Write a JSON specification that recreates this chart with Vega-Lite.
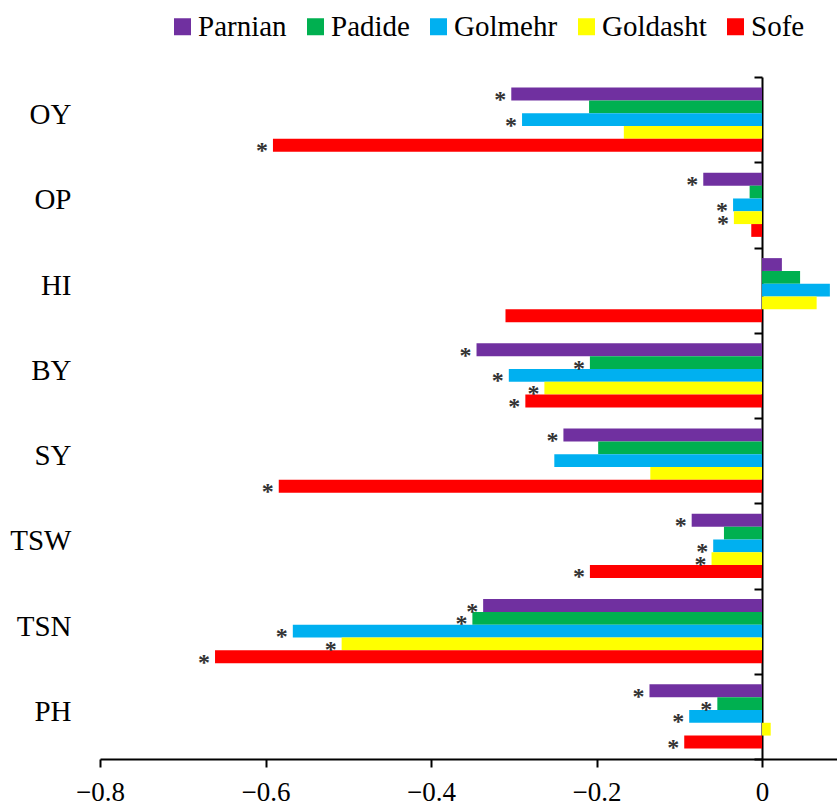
{
  "$schema": "https://vega.github.io/schema/vega-lite/v6.json",
  "width": 737,
  "height": 682,
  "autosize": {"type": "none"},
  "padding": {"left": 100, "top": 77, "right": 0, "bottom": 46},
  "config": {
    "view": {"stroke": null},
    "font": "Liberation Serif"
  },
  "data": {
    "values": [
      {"cat": "OY", "series": "Parnian", "value": -0.303, "sig": true},
      {"cat": "OY", "series": "Padide", "value": -0.209, "sig": false},
      {"cat": "OY", "series": "Golmehr", "value": -0.290, "sig": true},
      {"cat": "OY", "series": "Goldasht", "value": -0.167, "sig": false},
      {"cat": "OY", "series": "Sofe", "value": -0.591, "sig": true},
      {"cat": "OP", "series": "Parnian", "value": -0.071, "sig": true},
      {"cat": "OP", "series": "Padide", "value": -0.015, "sig": false},
      {"cat": "OP", "series": "Golmehr", "value": -0.035, "sig": true},
      {"cat": "OP", "series": "Goldasht", "value": -0.034, "sig": true},
      {"cat": "OP", "series": "Sofe", "value": -0.013, "sig": false},
      {"cat": "HI", "series": "Parnian", "value": 0.024, "sig": false},
      {"cat": "HI", "series": "Padide", "value": 0.046, "sig": false},
      {"cat": "HI", "series": "Golmehr", "value": 0.082, "sig": false},
      {"cat": "HI", "series": "Goldasht", "value": 0.066, "sig": false},
      {"cat": "HI", "series": "Sofe", "value": -0.310, "sig": false},
      {"cat": "BY", "series": "Parnian", "value": -0.345, "sig": true},
      {"cat": "BY", "series": "Padide", "value": -0.208, "sig": true},
      {"cat": "BY", "series": "Golmehr", "value": -0.306, "sig": true},
      {"cat": "BY", "series": "Goldasht", "value": -0.263, "sig": true},
      {"cat": "BY", "series": "Sofe", "value": -0.286, "sig": true},
      {"cat": "SY", "series": "Parnian", "value": -0.240, "sig": true},
      {"cat": "SY", "series": "Padide", "value": -0.198, "sig": false},
      {"cat": "SY", "series": "Golmehr", "value": -0.251, "sig": false},
      {"cat": "SY", "series": "Goldasht", "value": -0.135, "sig": false},
      {"cat": "SY", "series": "Sofe", "value": -0.584, "sig": true},
      {"cat": "TSW", "series": "Parnian", "value": -0.085, "sig": true},
      {"cat": "TSW", "series": "Padide", "value": -0.046, "sig": false},
      {"cat": "TSW", "series": "Golmehr", "value": -0.059, "sig": true},
      {"cat": "TSW", "series": "Goldasht", "value": -0.061, "sig": true},
      {"cat": "TSW", "series": "Sofe", "value": -0.208, "sig": true},
      {"cat": "TSN", "series": "Parnian", "value": -0.337, "sig": true},
      {"cat": "TSN", "series": "Padide", "value": -0.350, "sig": true},
      {"cat": "TSN", "series": "Golmehr", "value": -0.567, "sig": true},
      {"cat": "TSN", "series": "Goldasht", "value": -0.508, "sig": true},
      {"cat": "TSN", "series": "Sofe", "value": -0.661, "sig": true},
      {"cat": "PH", "series": "Parnian", "value": -0.136, "sig": true},
      {"cat": "PH", "series": "Padide", "value": -0.054, "sig": true},
      {"cat": "PH", "series": "Golmehr", "value": -0.088, "sig": true},
      {"cat": "PH", "series": "Goldasht", "value": 0.0105, "sig": false},
      {"cat": "PH", "series": "Sofe", "value": -0.094, "sig": true}
    ]
  },
  "encoding": {
    "y": {
      "field": "cat",
      "type": "nominal",
      "sort": ["OY", "OP", "HI", "BY", "SY", "TSW", "TSN", "PH"],
      "scale": {"paddingInner": 0, "paddingOuter": 0},
      "axis": {
        "title": null,
        "orient": "left",
        "offset": -662,
        "domain": true,
        "domainColor": "black",
        "domainWidth": 2,
        "ticks": true,
        "tickBand": "extent",
        "tickSize": 8,
        "tickWidth": 2,
        "tickColor": "black",
        "labelPadding": 683,
        "labelFont": "Liberation Serif",
        "labelFontSize": 29,
        "labelColor": "black",
        "labelOffset": -5
      }
    },
    "yOffset": {
      "field": "series",
      "type": "nominal",
      "sort": ["Parnian", "Padide", "Golmehr", "Goldasht", "Sofe"],
      "scale": {"paddingInner": 0, "paddingOuter": 0.83}
    },
    "x": {
      "field": "value",
      "type": "quantitative",
      "scale": {"domain": [-0.8, 0.0906], "nice": false, "zero": false},
      "axis": {
        "title": null,
        "values": [-0.8, -0.6, -0.4, -0.2, 0],
        "grid": false,
        "domainColor": "black",
        "domainWidth": 2,
        "tickColor": "black",
        "tickWidth": 2,
        "tickSize": 8,
        "labelPadding": 12,
        "labelFlush": false,
        "labelFont": "Liberation Serif",
        "labelFontSize": 27,
        "labelColor": "black",
        "labelExpr": "datum.value == 0 ? '0' : replace(format(datum.value, '.1f'), '-', '\u2212')"
      }
    }
  },
  "layer": [
    {
      "mark": {"type": "bar", "orient": "horizontal"},
      "encoding": {
        "x2": {"datum": 0},
        "color": {
          "field": "series",
          "type": "nominal",
          "sort": ["Parnian", "Padide", "Golmehr", "Goldasht", "Sofe"],
          "scale": {
            "domain": ["Parnian", "Padide", "Golmehr", "Goldasht", "Sofe"],
            "range": ["#7030A0", "#00B050", "#00B0F0", "#FFFF00", "#FF0000"]
          },
          "legend": {
            "title": null,
            "orient": "none",
            "direction": "horizontal",
            "legendX": 68,
            "legendY": -65,
            "padding": 0,
            "symbolType": "square",
            "symbolSize": 289,
            "symbolStrokeWidth": 0,
            "symbolOpacity": 1,
            "labelOffset": 1,
            "columnPadding": 14,
            "labelFont": "Liberation Serif",
            "labelFontSize": 29,
            "labelColor": "black"
          }
        }
      }
    },
    {
      "transform": [{"filter": "datum.sig"}],
      "mark": {
        "type": "text",
        "text": "*",
        "align": "right",
        "baseline": "middle",
        "dx": -5,
        "dy": 6,
        "fontSize": 24,
        "fontWeight": "bold",
        "font": "Liberation Serif",
        "color": "#333333"
      },
      "encoding": {}
    }
  ]
}
